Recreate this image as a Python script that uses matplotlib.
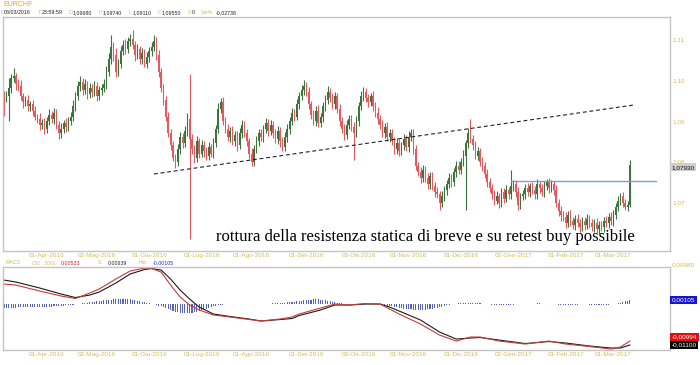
import numpy as np
import pandas as pd
import matplotlib
matplotlib.use("Agg")
import matplotlib.pyplot as plt

# ---------------- data ----------------
symbol = "EURCHF"
start_date = "2016-03-08"
first_open = 1.0968
close = [
    1.0955, 1.0960, 1.0980, 1.1005, 1.1010, 1.0990, 1.0985,                     # 0-6
    1.0960, 1.0945, 1.0950, 1.0935, 1.0940,                                     # 7-11
    1.0925, 1.0910, 1.0905, 1.0890, 1.0895, 1.0880,                             # 12-17
    1.0900, 1.0915, 1.0905, 1.0920, 1.0890,                                     # 18-22
    1.0870, 1.0880,                                                             # 23-24
    1.0895, 1.0885, 1.0900, 1.0910,                                             # 25-28
    1.0935, 1.0960, 1.0985, 1.0995,                                             # 29-32
    1.0975, 1.0990, 1.0965, 1.0980, 1.0970, 1.0985, 1.0960, 1.0975,             # 33-40
    1.0980, 1.0990, 1.1020,                                                     # 41-43
    1.1050, 1.1080, 1.1060,                                                     # 44-46
    1.1020, 1.1040,                                                             # 47-48
    1.1070, 1.1085, 1.1075, 1.1095, 1.1100,                                     # 49-53
    1.1085, 1.1060, 1.1075, 1.1050, 1.1065, 1.1040, 1.1055, 1.1070,             # 54-61
    1.1080, 1.1095,                                                             # 62-63
    1.1060, 1.1020, 1.0980, 1.0950, 1.0910, 1.0870, 1.0840,                     # 64-70
    1.0810, 1.0800,                                                             # 71-72
    1.0830, 1.0860, 1.0845, 1.0875, 1.0905,                                     # 73-77
    1.0855,                                                                     # 78
    1.0830, 1.0810, 1.0850, 1.0820,                                             # 79-82
    1.0840, 1.0825, 1.0815, 1.0835, 1.0820, 1.0845,                             # 83-88
    1.0880, 1.0930, 1.0945,                                                     # 89-91
    1.0900, 1.0880, 1.0860, 1.0875, 1.0850, 1.0865, 1.0840, 1.0870,             # 92-99
    1.0890, 1.0870,                                                             # 100-101
    1.0850, 1.0820, 1.0800, 1.0830,                                             # 102-105
    1.0850, 1.0870, 1.0860, 1.0880, 1.0895, 1.0875, 1.0890,                     # 106-112
    1.0870, 1.0855, 1.0875, 1.0850, 1.0835, 1.0860,                             # 113-118
    1.0880, 1.0900, 1.0920, 1.0910, 1.0940, 1.0960,                             # 119-124
    1.0975, 1.0985, 1.0970,                                                     # 125-127
    1.0940, 1.0915, 1.0900, 1.0925, 1.0895, 1.0910,                             # 128-133
    1.0935, 1.0950, 1.0970, 1.0955, 1.0940, 1.0960,                             # 134-139
    1.0930, 1.0900, 1.0880, 1.0865,                                             # 140-143
    1.0890, 1.0905, 1.0885, 1.0870,                                             # 144-147
    1.0900, 1.0935, 1.0960, 1.0970, 1.0955,                                     # 148-152
    1.0945, 1.0960, 1.0935, 1.0920,                                             # 153-156
    1.0905, 1.0890, 1.0870, 1.0885, 1.0860, 1.0870,                             # 157-162
    1.0850, 1.0830, 1.0845, 1.0825,                                             # 163-166
    1.0840, 1.0855, 1.0835, 1.0860, 1.0870,                                     # 167-171
    1.0830, 1.0790, 1.0775, 1.0760,                                             # 172-175
    1.0780, 1.0760, 1.0745, 1.0765, 1.0740, 1.0725,                             # 176-181
    1.0720, 1.0700, 1.0715, 1.0730,                                             # 182-185
    1.0745, 1.0760, 1.0750, 1.0775, 1.0790, 1.0780, 1.0800,                     # 186-192
    1.0815, 1.0845,                                                             # 193-194
    1.0870, 1.0855,                                                             # 195-196
    1.0840, 1.0815, 1.0825, 1.0800,                                             # 197-200
    1.0790, 1.0770, 1.0750, 1.0735, 1.0720, 1.0705,                             # 201-206
    1.0715, 1.0700, 1.0725, 1.0710,                                             # 207-210
    1.0730, 1.0720, 1.0740, 1.0745, 1.0725,                                     # 211-215
    1.0695, 1.0715, 1.0720, 1.0735,                                             # 216-219
    1.0725, 1.0740, 1.0730, 1.0720, 1.0745, 1.0735, 1.0725, 1.0740, 1.0750,
    1.0735, 1.0745, 1.0730,                                                     # 220-231
    1.0700, 1.0680, 1.0670,                                                     # 232-234
    1.0665, 1.0650, 1.0670, 1.0655, 1.0645, 1.0660,                             # 235-240
    1.0650, 1.0640, 1.0655, 1.0645, 1.0660, 1.0650,                             # 241-246
    1.0640, 1.0650, 1.0635, 1.0645, 1.0640, 1.0655,                             # 247-252
    1.0650, 1.0665, 1.0655, 1.0670, 1.0690,                                     # 253-257
    1.0705, 1.0715, 1.0700, 1.0690, 1.0695,                                     # 258-262
    1.0793,                                                                     # 263
]
wick_up_pips = [
    6, 12, 25, 10, 19, 8, 12, 14, 9, 11,
    13, 8, 10, 12, 7, 14, 9, 11, 10, 13,
    8, 12, 10, 9, 14, 8, 11, 10, 12, 15,
    10, 12, 14, 9, 11, 8, 13, 10, 12, 9,
    11, 10, 12, 14, 16, 30, 12, 18, 10, 14,
    12, 15, 10, 13, 22, 11, 14, 9, 12, 10,
    13, 11, 12, 15, 10, 12, 9, 11, 10, 12,
    9, 11, 10, 14, 12, 10, 13, 15, 110, 12,
    10, 14, 9, 12, 11, 10, 13, 9, 12, 10,
    14, 11, 12, 9, 13, 10, 12, 11, 9, 13,
    12, 10, 11, 9, 13, 10, 12, 9, 11, 10,
    13, 9, 12, 10, 11, 12, 9, 10, 13, 11,
    10, 12, 9, 13, 11, 12, 15, 10, 12, 9,
    11, 10, 13, 9, 12, 14, 16, 10, 12, 11,
    9, 12, 10, 11, 13, 10, 9, 12, 11, 10,
    14, 12, 10, 11, 9, 12, 10, 13, 9, 11,
    10, 12, 9, 11, 10, 13, 11, 9, 12, 10,
    14, 11, 10, 12, 9, 11, 13, 10, 12, 9,
    11, 10, 12, 9, 13, 10, 11, 12, 9, 10,
    12, 11, 10, 14, 8, 12, 35, 11, 10, 12,
    9, 11, 10, 12, 9, 11, 10, 13, 9, 11,
    10, 12, 9, 40, 11, 10, 12, 9, 11, 10,
    12, 9, 11, 10, 13, 9, 10, 12, 8, 11,
    10, 9, 12, 10, 11, 9, 12, 10, 11, 9,
    10, 12, 9, 11, 10, 12, 9, 11, 10, 12,
    9, 11, 10, 12, 9, 11, 13, 10, 12, 9,
    11, 10, 9, 12,
]
wick_dn_pips = [
    44, 10, 60, 12, 9, 14, 11, 10, 13, 9,
    12, 10, 14, 9, 11, 13, 10, 12, 9, 11,
    10, 13, 9, 15, 11, 10, 12, 9, 11, 10,
    12, 9, 11, 13, 10, 12, 9, 11, 10, 12,
    10, 11, 9, 12, 10, 11, 13, 14, 10, 12,
    9, 11, 10, 12, 9, 13, 10, 11, 12, 9,
    11, 10, 12, 9, 11, 13, 10, 12, 11, 10,
    12, 9, 15, 10, 12, 11, 9, 12, 245, 11,
    12, 10, 11, 9, 13, 10, 12, 9, 11, 10,
    9, 12, 10, 11, 9, 12, 10, 11, 13, 9,
    11, 10, 12, 14, 10, 11, 9, 12, 10, 11,
    10, 12, 9, 11, 10, 12, 13, 10, 9, 11,
    12, 10, 11, 9, 12, 10, 11, 9, 12, 10,
    11, 12, 9, 10, 12, 11, 9, 10, 12, 11,
    10, 12, 11, 12, 10, 9, 11, 66, 10, 12,
    9, 11, 10, 12, 9, 11, 10, 12, 11, 9,
    12, 10, 11, 9, 12, 10, 11, 9, 12, 10,
    11, 9, 12, 10, 11, 12, 9, 10, 12, 11,
    10, 12, 9, 18, 11, 10, 12, 9, 11, 10,
    12, 9, 11, 10, 133, 11, 10, 12, 9, 11,
    10, 12, 9, 11, 10, 12, 11, 9, 12, 10,
    11, 9, 12, 10, 11, 12, 14, 10, 9, 11,
    10, 12, 9, 11, 10, 12, 9, 11, 10, 12,
    9, 11, 10, 12, 14, 10, 11, 9, 12, 10,
    11, 9, 12, 10, 11, 9, 12, 10, 11, 9,
    12, 10, 11, 9, 12, 10, 11, 9, 10, 12,
    11, 9, 10, 5,
]

# MACD (32, 200), signal 9 -- sampled at bar numbers
macd_bar = [0, 5, 15, 24, 30, 36, 40, 47, 53, 59, 62, 66, 70, 74, 78, 82, 88, 95, 103, 108,
            116, 121, 124, 133, 139, 145, 152, 158, 162, 166, 175, 183, 190, 196, 200, 208,
            219, 229, 236, 246, 255, 259, 263]
macd_line = [0.00533, 0.00506, 0.00345, 0.00212, 0.00145, 0.00292, 0.00399, 0.00667, 0.00881, 0.00961,
             0.00948, 0.00854, 0.00506, 0.00185, -0.00029, -0.00163, -0.00297, -0.00351, -0.00418, -0.00458,
             -0.00404, -0.00351, -0.00270, -0.00110, -0.00003, -0.00029, 0.00011, -0.00003, -0.00137, -0.00270,
             -0.00538, -0.00833, -0.00994, -0.00886, -0.00886, -0.00994, -0.01074, -0.00994, -0.01074, -0.01141,
             -0.01208, -0.01154, -0.00994]
signal_line = [0.00639, 0.00587, 0.00426, 0.00265, 0.00171, 0.00238, 0.00319, 0.00560, 0.00801, 0.00921,
               0.00948, 0.00908, 0.00667, 0.00372, 0.00131, -0.00083, -0.00270, -0.00337, -0.00404, -0.00458,
               -0.00418, -0.00391, -0.00311, -0.00163, -0.00029, -0.00029, -0.00003, -0.00003, -0.00083, -0.00190,
               -0.00431, -0.00753, -0.00940, -0.00913, -0.00900, -0.00967, -0.01061, -0.01007, -0.01047, -0.01127,
               -0.01181, -0.01181, -0.01100]
# histogram, one value per bar, in 1e-5
hist_e5 = [
    -106, -104, -102, -100, -98, -96, -95, -94, -92, -90, -88, -86, -85, -84, -82, -80, -78, -76, -74, -72,
    -70, -66, -62, -58, -54, -48, -42, -36, -30, -22,
    -14, -6, 4, 14, 24, 34, 44, 54, 62, 70,
    78, 86, 94, 102, 110, 118, 126, 132, 136, 140, 138, 134, 128, 120, 110, 98, 86, 72,
    58, 44, 30, 16, 4, -10, -26, -44, -64, -86,
    -110, -136, -162, -186, -208, -226, -240, -250, -254, -252, -246, -236, -222, -206, -188, -168, -146,
    -124, -102, -82, -64, -48,
    -36, -26, -18, -12, -8, -6, -5, -4, -4, -4, -5, -6, -8, -10, -10, -8, -6, -3, 0, 3, 6, 8, 10, 12, 14,
    16, 20, 26, 32, 40,
    48, 56, 64, 72, 80, 88, 96, 104, 110, 116, 120, 122, 120, 116, 108, 98, 86, 72, 58, 44,
    32, 22, 14, 8, 4, 2, 0, 0, 2, 4, 6, 6, 4, 2, 0, -2, -4, -8,
    -14, -22, -32, -44, -56, -68, -80, -92, -104, -114, -124, -132, -140, -146, -152, -156, -158, -158,
    -156, -152, -146, -138, -128, -116, -102, -86, -70, -54,
    -40, -26, -14, -4, 4, 12, 18, 24, 28, 30, 30, 28, 24, 20, 14,
    8, 2, -4, -10, -16, -20, -24, -26, -28, -28, -26, -24, -20, -16, -12, -8, -4, -2, 0,
    2, 4, 8, 10, 12, 12, 10, 8, 4, 0, -4, -8, -12, -16, -20, -22, -24, -24, -22, -20, -18,
    -16, -14, -12, -12, -14, -16, -18, -20, -22, -24, -26, -26, -24, -20, -14, -6, 4, 16, 30, 48, 66, 86, 106,
]

month_dates = ["2016-04-01", "2016-05-02", "2016-06-01", "2016-07-01", "2016-08-01", "2016-09-01",
               "2016-10-03", "2016-11-01", "2016-12-01", "2017-01-02", "2017-02-01", "2017-03-01"]
month_labels = ["01-Apr-2016", "02-Mag-2016", "01-Giu-2016", "01-Lug-2016", "01-Ago-2016", "01-Set-2016",
                "03-Ott-2016", "01-Nov-2016", "01-Dic-2016", "02-Gen-2017", "01-Feb-2017", "01-Mar-2017"]
price_ticks = [1.07, 1.08, 1.09, 1.10, 1.11]
price_tick_labels = ["1,07", "1,08", "1,09", "1,10", "1,11"]

trend_dates = ["2016-06-03", "2017-03-14"]
trend_prices = [1.0770, 1.0939]
resist_dates = ["2016-12-30", "2017-03-27"]
resist_price = 1.0753

header_parts = [("D", "y"), ("08/03/2016", "k"), ("T", "y"), ("23:59:59", "k"), ("O", "y"), ("1,09680", "k"),
                ("H", "y"), ("1,09740", "k"), ("L", "y"), ("1,09110", "k"), ("C", "y"), ("1,09550", "k"),
                ("V", "y"), ("0", "k"), ("Var%", "y"), ("-0,02738", "k")]
macd_header = [("MACD", "y"), ("(32 , 200):", "y"), ("0,00533", "r"), ("S:", "y"), ("0,00639", "k"),
               ("Hst:", "y"), ("-0,00105", "b")]
annotation = "rottura della resistenza statica di breve e su retest buy possibile"
last_price_label = "1,07930"
macd_top_label = "0,00989"
macd_boxes = [("0,00105", 0.00105, "#1515d0"), ("-0,00994", -0.00880, "#e01010"), ("-0,01100", -0.01100, "#000000")]

# ---------------- drawing ----------------
W, H = 700, 365
YEL = "#d2bd5c"
ORANGE = "#e8a028"
GREEN = "#3d733d"
RED = "#e2595f"
BORDER = "#c4c4c4"
FONT = "Liberation Sans"
FS = 4.6
HFS = 3.8
colmap = {"y": YEL, "k": "#222222", "r": "#d02020", "b": "#2030c0"}

n = min(len(close), len(wick_up_pips), len(wick_dn_pips))
c = np.array(close[:n])
o = np.r_[first_open, c[:-1]]
hi = np.maximum(o, c) + np.array(wick_up_pips[:n]) * 1e-4
lo = np.minimum(o, c) - np.array(wick_dn_pips[:n]) * 1e-4
bars = np.arange(n)

all_dates = pd.bdate_range(start_date, periods=300)
def bar_of(d):
    return all_dates.get_loc(pd.Timestamp(d))

fig = plt.figure(figsize=(W / 100, H / 100), dpi=100)
fig.patch.set_facecolor("white")
ax = fig.add_axes([3 / W, 1 - 251 / H, 667 / W, 234 / H])
axm = fig.add_axes([3 / W, 1 - 350 / H, 667 / W, 83 / H])

xl = (-1 / 2.38, 666 / 2.38)
for a in (ax, axm):
    a.set_xlim(*xl)
    for s in a.spines.values():
        s.set_color(BORDER)
        s.set_linewidth(1.0)
    a.set_xticks([bar_of(d) for d in month_dates])
    a.set_xticklabels(month_labels, fontsize=FS, color=YEL, family=FONT)
    a.tick_params(axis="x", length=0, pad=1.6)

# candles
up = c >= o
cols = np.where(up, GREEN, RED)
ax.vlines(bars, lo, hi, colors=cols, linewidth=0.8)
body = np.maximum(np.abs(c - o), 0.00008)
ax.bar(bars, body, bottom=np.minimum(o, c), width=0.62, color=cols, linewidth=0)

ax.set_ylim(1.05817, 1.11538)
ax.yaxis.tick_right()
ax.set_yticks(price_ticks)
ax.set_yticklabels(price_tick_labels, fontsize=FS, color=YEL, family=FONT)
ax.tick_params(axis="y", length=0, pad=1.5)

# trend line and resistance
ax.plot([bar_of(d) for d in trend_dates], trend_prices, color="#222222", lw=0.8, ls=(0, (3.5, 2.5)))
ax.plot([bar_of(d) for d in resist_dates], [resist_price] * 2, color="#7f9fd0", lw=1.0)

ax.text((425 - 3) / 667, (251 - 237) / 234, annotation, transform=ax.transAxes, ha="center", va="center",
        fontsize=12, family="Liberation Serif", color="black")

ax.annotate(last_price_label, xy=(1.0025, c[-1]), xycoords=ax.get_yaxis_transform(),
            xytext=(0, -2), textcoords="offset points", ha="left", va="center",
            fontsize=FS, family=FONT, color="#111111",
            bbox=dict(boxstyle="square,pad=0.25", fc="#cfcfcf", ec="none"))

# MACD panel
axm.set_ylim(-0.01234, 0.00989)
axm.set_yticks([])
h = np.array(hist_e5[:n]) * 1e-5
axm.bar(bars, h, width=0.45, color="#5562bb", linewidth=0)
axm.plot(macd_bar, signal_line, color="#1a1a1a", lw=0.8)
axm.plot(macd_bar, macd_line, color="#c83a3a", lw=0.8)
axm.text(1.0025, 1.0, macd_top_label, transform=axm.transAxes, ha="left", va="bottom",
         fontsize=FS, family=FONT, color=YEL)
for txt, val, colr in macd_boxes:
    axm.text(1.0025, val, txt, transform=axm.get_yaxis_transform(), ha="left", va="center",
             fontsize=FS, family=FONT, color="white",
             bbox=dict(boxstyle="square,pad=0.25", fc=colr, ec="none"))

# header texts
fig.text(3 / W, 1 - 4 / H, symbol, fontsize=5.0, color=ORANGE, family=FONT, va="center", ha="left")

hx = [0.5, 3.5, 38, 41.5, 69, 73, 99, 103, 129, 133, 158, 162, 188, 192, 201, 216]
for (s, k), xx in zip(header_parts, hx):
    fig.text(xx / W, 1 - 12.5 / H, s, fontsize=HFS, color=colmap[k], family=FONT, va="center", ha="left")

mx = [6, 32, 61, 98, 108, 139, 153]
for (s, k), xx in zip(macd_header, mx):
    fig.text(xx / W, 1 - 263 / H, s, fontsize=HFS, color=colmap[k], family=FONT, va="center", ha="left")

fig.savefig("out.png", dpi=100, facecolor="white")
